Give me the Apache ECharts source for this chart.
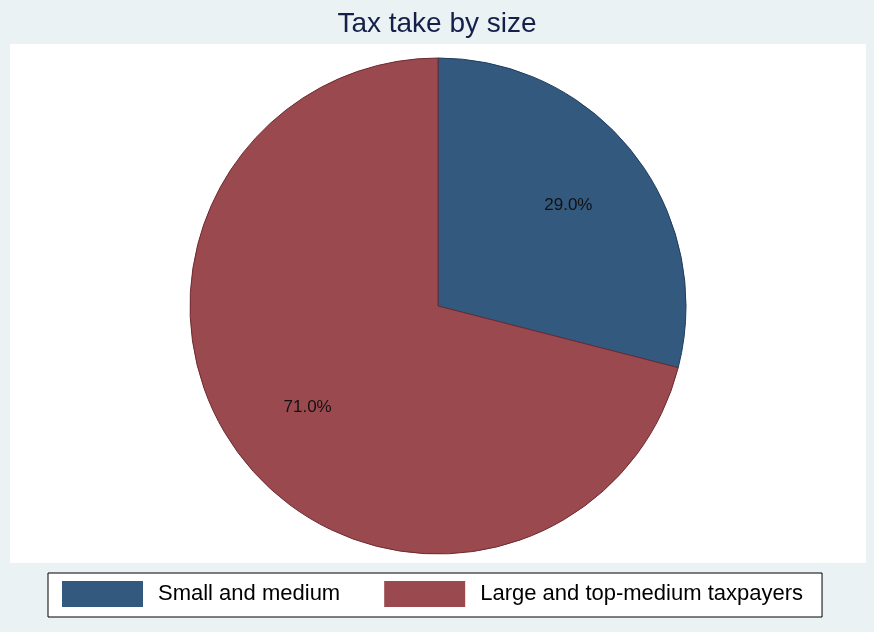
<!DOCTYPE html>
<html>
<head>
<meta charset="utf-8">
<script src="https://cdn.jsdelivr.net/npm/echarts@6/dist/echarts.min.js"></script>
<style>
  html, body { margin: 0; padding: 0; background: #EAF2F3; }
  #chart { width: 874px; height: 632px; }
</style>
</head>
<body>
<div id="chart"></div>
<script>
// Share of tax take by taxpayer size group (percent)
const categories = ['Small and medium', 'Large and top-medium taxpayers'];
const shares = [29.0, 71.0];
const fills = ['#34597E', '#9A4A4F'];
const edges = ['#1E3D5E', '#6E2A30'];

const font = '"Liberation Sans", Arial, Helvetica, sans-serif';

const chart = echarts.init(document.getElementById('chart'), null, { renderer: 'canvas' });

const sliceData = categories.map((name, i) => ({
  name,
  value: shares[i],
  itemStyle: { color: fills[i], borderColor: edges[i], borderWidth: 1 }
}));

// Transparent ring used only to place the percentage labels further out
const labelData = categories.map((name, i) => ({
  name,
  value: shares[i],
  itemStyle: { color: 'rgba(0,0,0,0)' }
}));

chart.setOption({
  backgroundColor: '#EAF2F3',
  animation: false,
  title: {
    text: 'Tax take by size',
    left: 'center',
    top: 5,
    textStyle: { color: '#14204A', fontSize: 28, fontWeight: 'normal', fontFamily: font }
  },
  graphic: [{
    type: 'rect',
    z: -10,
    shape: { x: 10, y: 44, width: 856, height: 519 },
    style: { fill: '#FFFFFF' }
  }],
  legend: {
    data: categories,
    left: 48,
    top: 573,
    orient: 'horizontal',
    icon: 'rect',
    itemWidth: 81,
    itemHeight: 26,
    itemGap: 44,
    padding: [8, 19, 10, 14],
    borderColor: '#000000',
    borderWidth: 1,
    backgroundColor: '#FFFFFF',
    selectedMode: false,
    itemStyle: { borderWidth: 0 },
    textStyle: { color: '#000000', fontSize: 22, fontFamily: font, padding: [0, 0, 0, 10] }
  },
  series: [
    {
      type: 'pie',
      center: [438, 306],
      radius: [0, 248],
      startAngle: 90,
      clockwise: true,
      silent: true,
      data: sliceData,
      label: { show: false },
      labelLine: { show: false }
    },
    {
      type: 'pie',
      center: [438, 306],
      radius: [76, 248],
      startAngle: 90,
      clockwise: true,
      silent: true,
      legendHoverLink: false,
      data: labelData,
      label: {
        show: true,
        position: 'inside',
        formatter: p => p.value.toFixed(1) + '%',
        color: '#111111',
        fontSize: 17,
        fontFamily: font
      },
      labelLine: { show: false }
    }
  ]
});
</script>
</body>
</html>
